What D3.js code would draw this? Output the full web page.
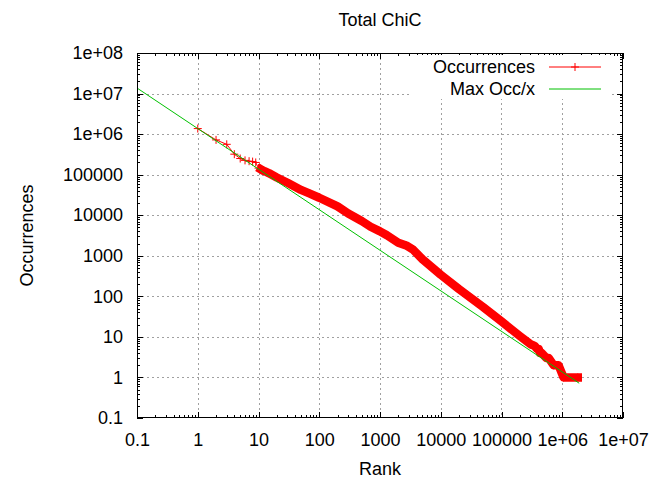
<!DOCTYPE html>
<html>
<head>
<meta charset="utf-8">
<script src="https://cdn.jsdelivr.net/npm/d3@7"></script>
<style>
  body { margin: 0; background: #fff; }
  svg { display: block; }
  text { font-family: "Liberation Sans", Arial, sans-serif; fill: #000; }
</style>
</head>
<body>
<svg id="chart" width="654" height="485"></svg>
<script>
// data
const ranks = [1, 2, 3, 4, 5, 6, 7, 8, 9, 10, 11, 12, 13, 15, 20, 30, 50, 70, 100, 200, 300, 500, 700,
  1000, 1300, 2000, 2700, 3500, 5000, 10000, 20000, 50000, 100000, 200000, 300000, 350000,
  390000, 410000, 430000, 460000, 550000, 600000, 720000, 870000, 1050000, 1800000];
const occurrences = [1370000, 720000, 560000, 320000, 250000, 225000, 215000, 210000, 200000, 145000,
  135000, 125000, 120000, 108000, 85000, 63000, 42000, 34000, 27000, 16500, 11000, 7200, 5200,
  4000, 3200, 2100, 1800, 1420, 820, 340, 150, 54, 24, 10.5, 6.6, 6,
  5, 5, 4, 4, 3, 3, 2, 2, 1, 1];
const maxOccRank = [0.1, 1900000];
const maxOccValue = [13700000, 0.72];

const xTicks = [0.1, 1, 10, 100, 1000, 10000, 100000, 1e6, 1e7];
const xTickLabels = ["0.1", "1", "10", "100", "1000", "10000", "100000", "1e+06", "1e+07"];
const yTicks = [0.1, 1, 10, 100, 1000, 10000, 100000, 1e6, 1e7, 1e8];
const yTickLabels = ["0.1", "1", "10", "100", "1000", "10000", "100000", "1e+06", "1e+07", "1e+08"];
const seriesNames = ["Occurrences", "Max Occ/x"];
const seriesColors = ["#ff0000", "#00c000"];

const pLeft = 137, pRight = 623, pTop = 53, pBottom = 418;
const fs = 18;

const svg = d3.select("#chart");
const x = d3.scaleLog().domain([0.1, 1e7]).range([pLeft, pRight]);
const y = d3.scaleLog().domain([0.1, 1e8]).range([pBottom, pTop]);

const minorOf = ticks => {
  let out = [];
  ticks.slice(0, -1).forEach(t => { for (let m = 2; m < 10; m++) out.push(t * m); });
  return out;
};

// grid
const grid = svg.append("g").attr("stroke", "#a0a0a0").attr("stroke-dasharray", "2,3").attr("shape-rendering", "crispEdges");
xTicks.slice(1, -1).forEach(t => grid.append("line")
  .attr("x1", Math.round(x(t)) + 0.5).attr("x2", Math.round(x(t)) + 0.5).attr("y1", pTop).attr("y2", pBottom));
yTicks.slice(1, -1).forEach(t => grid.append("line")
  .attr("y1", Math.round(y(t)) + 0.5).attr("y2", Math.round(y(t)) + 0.5).attr("x1", pLeft).attr("x2", pRight));

// axes (ticks pointing inward, mirrored on top/right)
function axis(gen, tr, ticks, labels, size, pad) {
  const g = svg.append("g").attr("transform", tr)
    .call(gen.tickValues(ticks).tickSize(size).tickPadding(pad)
      .tickFormat((d, i) => labels ? labels[i] : ""));
  g.select(".domain").remove();
  g.selectAll("line").attr("stroke", "#000").attr("shape-rendering", "crispEdges");
  g.selectAll("text").attr("font-size", fs).attr("font-family", "Liberation Sans, Arial, sans-serif");
  return g;
}
axis(d3.axisBottom(x), `translate(0,${pBottom})`, xTicks, xTickLabels, -6, 15);
axis(d3.axisBottom(x), `translate(0,${pBottom})`, minorOf(xTicks), null, -3, 0);
axis(d3.axisTop(x), `translate(0,${pTop})`, xTicks, null, -6, 0);
axis(d3.axisTop(x), `translate(0,${pTop})`, minorOf(xTicks), null, -3, 0);
axis(d3.axisLeft(y), `translate(${pLeft},0)`, yTicks, yTickLabels, -6, 14);
axis(d3.axisLeft(y), `translate(${pLeft},0)`, minorOf(yTicks), null, -3, 0);
axis(d3.axisRight(y), `translate(${pRight},0)`, yTicks, null, -6, 0);
axis(d3.axisRight(y), `translate(${pRight},0)`, minorOf(yTicks), null, -3, 0);

// legend box (opaque, hides grid)
svg.append("rect").attr("x", 412).attr("y", 55).attr("width", 200).attr("height", 44).attr("fill", "#fff");

// occurrences series
const pts = ranks.map((r, i) => [r, occurrences[i]]);
const line = d3.line().x(d => x(d[0])).y(d => y(d[1]));
const dense = pts.filter(d => d[0] >= 11);
svg.append("path").attr("d", line(dense)).attr("fill", "none")
  .attr("stroke", seriesColors[0]).attr("stroke-width", 8.5)
  .attr("stroke-linejoin", "round").attr("stroke-linecap", "square");
svg.append("path").attr("d", line(pts)).attr("fill", "none")
  .attr("stroke", seriesColors[0]).attr("stroke-width", 1);
const plus = (cx, cy, h) => `M${cx - h},${cy}H${cx + h}M${cx},${cy - h}V${cy + h}`;
svg.append("path").attr("fill", "none").attr("stroke", seriesColors[0]).attr("stroke-width", 1)
  .attr("d", pts.map(d => plus(x(d[0]), y(d[1]), 4)).join(""));

// max occ / x
svg.append("path").attr("d", line(maxOccRank.map((r, i) => [r, maxOccValue[i]])))
  .attr("fill", "none").attr("stroke", seriesColors[1]).attr("stroke-width", 1);

// border
svg.append("rect").attr("x", pLeft + 0.5).attr("y", pTop + 0.5)
  .attr("width", pRight - pLeft - 1).attr("height", pBottom - pTop - 1)
  .attr("fill", "none").attr("stroke", "#000").attr("shape-rendering", "crispEdges");

// legend entries
seriesNames.forEach((name, i) => {
  const ly = 67 + i * 22;
  svg.append("text").attr("x", 535).attr("y", ly).attr("dy", "0.35em")
    .attr("text-anchor", "end").attr("font-size", fs).text(name);
  svg.append("line").attr("x1", 549).attr("x2", 601).attr("y1", ly).attr("y2", ly)
    .attr("stroke", seriesColors[i]).attr("stroke-width", 1);
  if (i === 0) svg.append("path").attr("d", plus(575, ly, 4))
    .attr("stroke", seriesColors[0]).attr("fill", "none");
});

// titles
svg.append("text").attr("x", (pLeft + pRight) / 2).attr("y", 26).attr("text-anchor", "middle")
  .attr("font-size", fs).text("Total ChiC");
svg.append("text").attr("x", (pLeft + pRight) / 2).attr("y", 475).attr("text-anchor", "middle")
  .attr("font-size", fs).text("Rank");
svg.append("text").attr("transform", `translate(33,${(pTop + pBottom) / 2}) rotate(-90)`)
  .attr("text-anchor", "middle").attr("font-size", fs).text("Occurrences");
</script>
</body>
</html>
